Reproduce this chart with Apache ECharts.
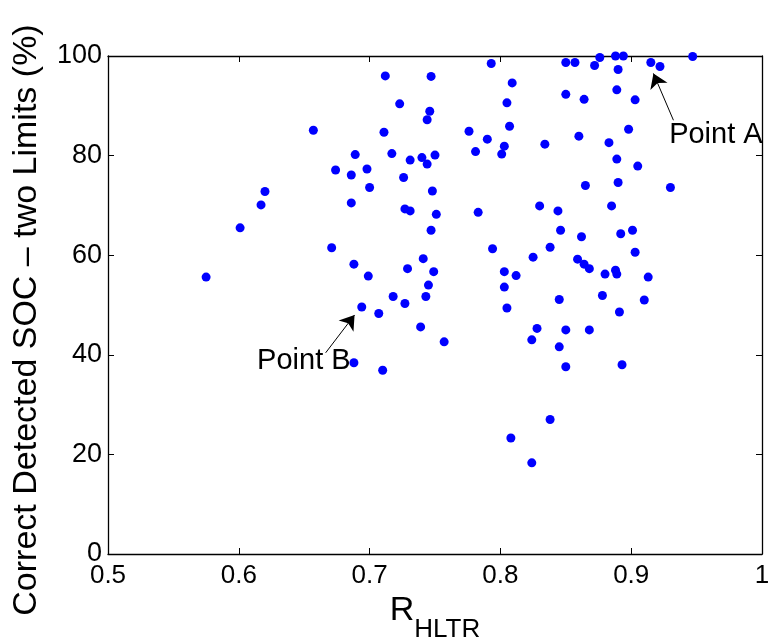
<!DOCTYPE html>
<html>
<head>
<meta charset="utf-8">
<script src="https://cdn.jsdelivr.net/npm/echarts@6/dist/echarts.min.js"></script>
<style>
  html, body { margin: 0; padding: 0; background: #fff; }
  #chart { width: 770px; height: 641px; }
</style>
</head>
<body>
<div id="chart"></div>
<script>
// values
const rHltr = [
  0.575, 0.601, 0.617, 0.620, 0.657, 0.671, 0.674, 0.688, 0.686, 0.686,
  0.689, 0.698, 0.700, 0.699, 0.712, 0.711, 0.723, 0.717, 0.731, 0.726,
  0.727, 0.731, 0.729, 0.741, 0.749, 0.745, 0.743, 0.718, 0.727, 0.694,
  0.707, 0.747, 0.746, 0.744, 0.740, 0.744, 0.750, 0.748, 0.751, 0.747,
  0.688, 0.710, 0.739, 0.793, 0.809, 0.805, 0.807, 0.776, 0.790, 0.781,
  0.803, 0.801, 0.834, 0.783, 0.794, 0.830, 0.844, 0.846, 0.862, 0.838,
  0.825, 0.859, 0.864, 0.868, 0.803, 0.812, 0.803, 0.805, 0.845, 0.880,
  0.888, 0.889, 0.913, 0.903, 0.901, 0.892, 0.885, 0.890, 0.865, 0.889,
  0.905, 0.930, 0.883, 0.898, 0.860, 0.850, 0.864, 0.889, 0.903, 0.850,
  0.857, 0.872, 0.876, 0.888, 0.894, 0.890, 0.915, 0.922, 0.947, 0.910,
  0.878, 0.891, 0.757, 0.828, 0.824, 0.850, 0.868, 0.845, 0.850, 0.893,
  0.838, 0.808, 0.824
]
const socCorrect = [
  55.6, 65.5, 70.1, 72.8, 85.1, 61.5, 77.1, 58.2, 76.1, 70.5,
  80.2, 77.3, 73.6, 55.8, 96.0, 84.7, 90.4, 80.4, 79.1, 75.6,
  69.3, 68.9, 57.3, 59.3, 56.7, 54.0, 51.7, 51.7, 50.3, 49.6,
  48.3, 95.9, 88.9, 87.2, 79.6, 78.3, 80.1, 72.9, 68.2, 65.0,
  38.4, 36.9, 45.6, 98.5, 94.6, 90.6, 85.9, 84.9, 83.3, 80.8,
  81.9, 80.3, 82.3, 68.6, 61.3, 69.9, 68.9, 65.0, 63.7, 61.6,
  59.6, 59.2, 58.2, 57.3, 56.7, 55.9, 53.6, 49.4, 51.1, 56.2,
  57.0, 56.2, 55.6, 60.6, 65.0, 64.3, 69.9, 74.6, 74.0, 79.3,
  77.9, 73.6, 82.6, 85.3, 83.9, 92.3, 91.3, 93.2, 91.2, 98.7,
  98.7, 98.1, 99.7, 100.0, 100.0, 97.3, 98.7, 97.9, 99.9, 51.0,
  51.9, 48.6, 42.6, 45.3, 43.0, 45.0, 45.0, 41.6, 37.6, 38.0,
  27.0, 23.3, 18.3
]

const xTicks = [0.5, 0.6, 0.7, 0.8, 0.9, 1]
const yTicks = [0, 20, 40, 60, 80, 100]

// annotations: label anchor and arrow tail -> tip (data coords)
const annoLabels = [[0.929, 84.1, 'Point A'], [0.614, 38.8, 'Point B']]
const annoArrows = [
  [[0.9323, 87.1], [0.917, 96.5]],
  [[0.6664, 40.4], [0.6885, 48.0]]
]

const font = '"Liberation Sans", Arial, Helvetica, sans-serif'

var points = rHltr.map((x, i) => [x, socCorrect[i]])

var chart = echarts.init(document.getElementById('chart'), null, {renderer: 'canvas'})

var axisLine = {show: true, onZero: false, lineStyle: {color: '#000', width: 1.3}}
var axisTick = {show: true, inside: true, length: 6, lineStyle: {color: '#000', width: 1}}

// top and right axes only carry the box line and inward ticks
var frameAxis = {
  type: 'value',
  axisLine: axisLine,
  axisTick: axisTick,
  axisLabel: {show: false},
  splitLine: {show: false}
}

var option = {
  animation: false,
  backgroundColor: '#fff',
  grid: {
    left: 108, right: 8, top: 56, bottom: 87,
    containLabel: false, outerBoundsMode: 'none'
  },
  xAxis: [
    {
      type: 'value',
      min: xTicks[0], max: xTicks[xTicks.length - 1], interval: 0.1,
      axisLine: axisLine,
      axisTick: axisTick,
      axisLabel: {color: '#000', fontFamily: font, fontSize: 26, margin: 9,
        formatter: v => String(Math.round(v * 10) / 10)},
      splitLine: {show: false},
      name: '{r|R}{s|HLTR}',
      nameLocation: 'middle',
      nameGap: 30,
      nameTextStyle: {
        rich: {
          r: {fontFamily: font, fontSize: 34, lineHeight: 34, color: '#000', verticalAlign: 'top'},
          s: {fontFamily: font, fontSize: 26, lineHeight: 26, color: '#000', verticalAlign: 'top', padding: [23, 0, 0, 0]}
        }
      }
    },
    Object.assign({}, frameAxis, {position: 'top',
      min: xTicks[0], max: xTicks[xTicks.length - 1], interval: 0.1})
  ],
  yAxis: [
    {
      type: 'value',
      min: yTicks[0], max: yTicks[yTicks.length - 1], interval: 20,
      axisLine: axisLine,
      axisTick: axisTick,
      axisLabel: {color: '#000', fontFamily: font, fontSize: 27, margin: 6},
      splitLine: {show: false},
      name: 'Correct Detected SOC \u2013 two Limits (%)',
      nameLocation: 'middle',
      nameGap: 64,
      nameTextStyle: {fontFamily: font, fontSize: 34, color: '#000', padding: [0, 30, 0, 0]}
    },
    Object.assign({}, frameAxis, {position: 'right',
      min: yTicks[0], max: yTicks[yTicks.length - 1], interval: 20})
  ],
  series: [
    {
      type: 'scatter',
      data: points,
      symbol: 'circle',
      symbolSize: 9,
      clip: false,
      itemStyle: {color: '#0000ff', opacity: 1}
    },
    {
      type: 'lines',
      coordinateSystem: 'cartesian2d',
      xAxisIndex: 1,
      yAxisIndex: 1,
      data: annoArrows.map(c => ({coords: c})),
      symbol: ['none', 'arrow'],
      symbolSize: [0, 14],
      lineStyle: {color: '#000', width: 1, opacity: 1},
      silent: true
    },
    {
      type: 'scatter',
      xAxisIndex: 1,
      yAxisIndex: 1,
      data: annoLabels,
      symbolSize: 0,
      silent: true,
      clip: false,
      label: {
        show: true,
        position: [0, 0],
        align: 'left',
        verticalAlign: 'middle',
        formatter: p => p.value[2],
        fontFamily: font,
        fontSize: 29,
        color: '#000',
        opacity: 1
      }
    }
  ]
}

chart.setOption(option)
</script>
</body>
</html>
